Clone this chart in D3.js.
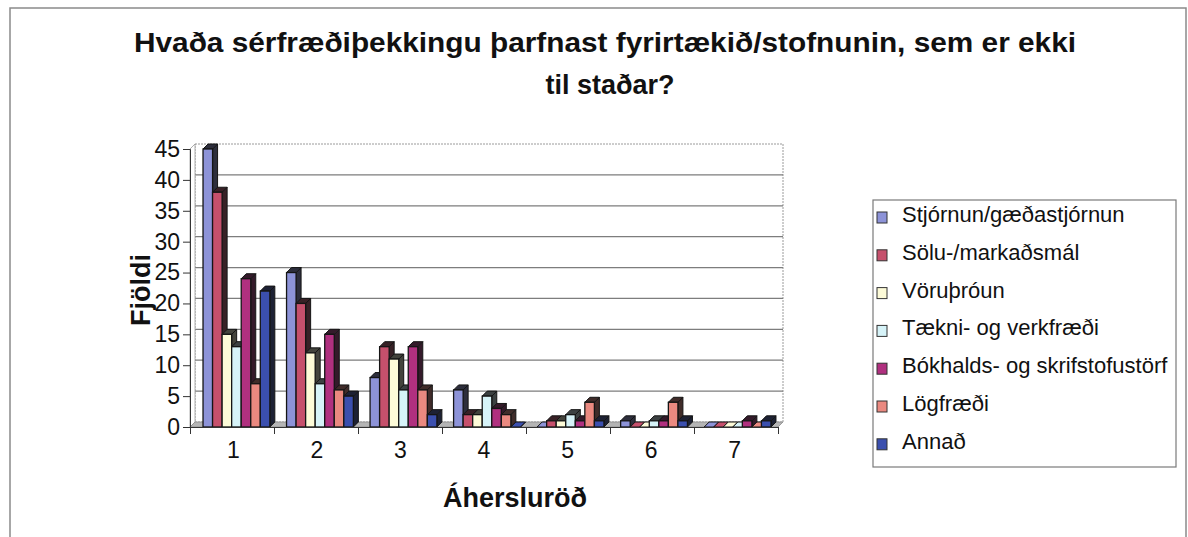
<!DOCTYPE html>
<html>
<head>
<meta charset="utf-8">
<script src="https://cdn.jsdelivr.net/npm/d3@7"></script>
<style>
  body { margin: 0; background: #fff; }
  text { font-family: "Liberation Sans", Arial, sans-serif; fill: #111; }
</style>
</head>
<body>
<div id="chart"></div>
<script>
// Data
const categories = ["1", "2", "3", "4", "5", "6", "7"];
const seriesNames = [
    "Stjórnun/gæðastjórnun",
    "Sölu-/markaðsmál",
    "Vöruþróun",
    "Tækni- og verkfræði",
    "Bókhalds- og skrifstofustörf",
    "Lögfræði",
    "Annað"
];
const stjornun  = [45, 25, 8, 6, 0, 1, 0];
const solu      = [38, 20, 13, 2, 1, 0, 0];
const voru      = [15, 12, 11, 2, 1, 0, 0];
const taekni    = [13, 7, 6, 5, 2, 1, 0];
const bokhald   = [24, 15, 13, 3, 1, 1, 1];
const logfraedi = [7, 6, 6, 2, 4, 4, 0];
const annad     = [22, 5, 2, 0, 1, 1, 1];
const yTicks = [0, 5, 10, 15, 20, 25, 30, 35, 40, 45];

const seriesValues = [stjornun, solu, voru, taekni, bokhald, logfraedi, annad];
const colors = ["#8d93d8", "#c6506c", "#fdfbd8", "#d6f3f8", "#b0307f", "#ea8980", "#3b4fae"];

const W = 1188, H = 537;
const svg = d3.select("#chart").append("svg")
    .attr("width", W)
    .attr("height", H);

// outer frame
svg.append("rect")
    .attr("x", 10).attr("y", 8)
    .attr("width", 1176).attr("height", 560)
    .attr("fill", "none")
    .attr("stroke", "#8a8a8a")
    .attr("stroke-width", 1.5);

// Title
const title = svg.append("text")
    .attr("text-anchor", "middle")
    .attr("font-weight", "bold")
    .attr("font-size", 27)
    .attr("fill", "#1a1a1a");
title.append("tspan").attr("x", 605).attr("y", 52)
    .attr("textLength", 942).attr("lengthAdjust", "spacingAndGlyphs")
    .text("Hvaða sérfræðiþekkingu þarfnast fyrirtækið/stofnunin, sem er ekki");
title.append("tspan").attr("x", 610).attr("y", 94)
    .text("til staðar?");

// Plot geometry
const plotLeft = 190, plotRight = 778, floorY = 427, topY = 149;
const dx = 5, dy = -5;   // 3D depth

const x0 = d3.scaleBand()
    .domain(categories)
    .range([plotLeft, plotRight])
    .paddingInner(0.2)
    .paddingOuter(0.12);

const x1 = d3.scaleBand()
    .domain(seriesNames)
    .range([0, x0.bandwidth()]);

const y = d3.scaleLinear()
    .domain([0, 45])
    .range([floorY, topY]);

const xEdges = d3.scaleLinear()
    .domain([0, categories.length])
    .range([plotLeft, plotRight]);

// back wall
svg.append("rect")
    .attr("x", plotLeft + dx)
    .attr("y", y(45) + dy)
    .attr("width", plotRight - plotLeft)
    .attr("height", floorY - y(45))
    .attr("fill", "#fff")
    .attr("stroke", "#9a9a9a")
    .attr("stroke-dasharray", "2,1");

// gridlines on the back wall
svg.append("g")
    .selectAll("line")
    .data(yTicks.filter(t => t > 0 && t < 45))
    .enter().append("line")
    .attr("x1", plotLeft + dx)
    .attr("x2", plotRight + dx)
    .attr("y1", d => y(d) + dy)
    .attr("y2", d => y(d) + dy)
    .attr("stroke", "#7d7d7d")
    .attr("stroke-width", 1.2);

// side wall (left)
svg.append("polygon")
    .attr("points", [
        [plotLeft, y(0)], [plotLeft + dx, y(0) + dy],
        [plotLeft + dx, y(45) + dy], [plotLeft, y(45)]
    ].map(p => p.join(",")).join(" "))
    .attr("fill", "#fff")
    .attr("stroke", "#9a9a9a")
    .attr("stroke-width", 0.8);

// floor
svg.append("polygon")
    .attr("points", [
        [plotLeft, floorY], [plotRight, floorY],
        [plotRight + dx, floorY + dy], [plotLeft + dx, floorY + dy]
    ].map(p => p.join(",")).join(" "))
    .attr("fill", "#b5b5b5")
    .attr("stroke", "#8a8a8a")
    .attr("stroke-width", 0.8);

// bars, drawn left to right so each front face covers the side of its neighbour
const bars = [];
categories.forEach((c, ci) => {
    seriesNames.forEach((s, si) => {
        bars.push({cat: c, series: s, value: seriesValues[si][ci], color: colors[si]});
    });
});

const barG = svg.append("g");
bars.forEach(d => {
    const xf = x0(d.cat) + x1(d.series) + 3;
    const w = x1.bandwidth();
    const yt = y(d.value);
    const dark = d3.interpolateRgb(d.color, "#151515")(0.8);

    barG.append("polygon")
        .attr("points", [[xf + w, yt], [xf + w + dx, yt + dy], [xf + w + dx, floorY + dy], [xf + w, floorY]]
            .map(p => p.join(",")).join(" "))
        .attr("fill", dark)
        .attr("stroke", "#151515")
        .attr("stroke-width", 1);

    barG.append("polygon")
        .attr("points", [[xf, yt], [xf + dx, yt + dy], [xf + w + dx, yt + dy], [xf + w, yt]]
            .map(p => p.join(",")).join(" "))
        .attr("fill", d.value === 0 ? d.color : dark)
        .attr("stroke", "#151515")
        .attr("stroke-width", 1);

    barG.append("rect")
        .attr("x", xf)
        .attr("y", yt)
        .attr("width", w)
        .attr("height", floorY - yt)
        .attr("fill", d.color)
        .attr("stroke", "#151515")
        .attr("stroke-width", 1.3);
});

// y axis
const yAxis = svg.append("g")
    .attr("transform", `translate(${plotLeft},0)`)
    .call(d3.axisLeft(y).tickValues(yTicks).tickSize(7).tickPadding(3));
yAxis.select(".domain").attr("stroke", "#333");
yAxis.selectAll(".tick line").attr("stroke", "#333");
yAxis.selectAll(".tick text")
    .attr("font-size", 23)
    .attr("font-family", "Liberation Sans, Arial, sans-serif")
    .attr("fill", "#111");

// x axis: boundary ticks
const xAxisTicks = svg.append("g")
    .attr("transform", `translate(0,${floorY})`)
    .call(d3.axisBottom(xEdges).ticks(categories.length).tickSize(7).tickFormat(""));
xAxisTicks.select(".domain").attr("stroke", "#333");
xAxisTicks.selectAll(".tick line").attr("stroke", "#333");

// x axis: category labels
const xAxisLabels = svg.append("g")
    .attr("transform", `translate(0,${floorY})`)
    .call(d3.axisBottom(x0).tickSize(0).tickPadding(15));
xAxisLabels.select(".domain").remove();
xAxisLabels.selectAll(".tick text")
    .attr("font-size", 23)
    .attr("font-family", "Liberation Sans, Arial, sans-serif")
    .attr("fill", "#111");

// axis titles
svg.append("text")
    .attr("text-anchor", "middle")
    .attr("font-weight", "bold")
    .attr("font-size", 27)
    .attr("x", 515)
    .attr("y", 507)
    .text("Áhersluröð");

svg.append("text")
    .attr("text-anchor", "middle")
    .attr("font-weight", "bold")
    .attr("font-size", 27)
    .attr("transform", "translate(150,290) rotate(-90)")
    .text("Fjöldi");

// legend
svg.append("rect")
    .attr("x", 873).attr("y", 200)
    .attr("width", 303).attr("height", 267)
    .attr("fill", "#fff")
    .attr("stroke", "#7a7a7a")
    .attr("stroke-width", 1.2);

const legend = svg.selectAll(".legend")
    .data(seriesNames)
    .enter().append("g")
    .attr("class", "legend")
    .attr("transform", (d, i) => `translate(877,${215 + i * 37.8})`);

legend.append("rect")
    .attr("x", 0)
    .attr("y", -3)
    .attr("width", 10)
    .attr("height", 11)
    .attr("fill", (d, i) => colors[i])
    .attr("stroke", "#333");

legend.append("text")
    .attr("x", 25)
    .attr("y", 7)
    .attr("font-size", 22)
    .text(d => d);
</script>
</body>
</html>
